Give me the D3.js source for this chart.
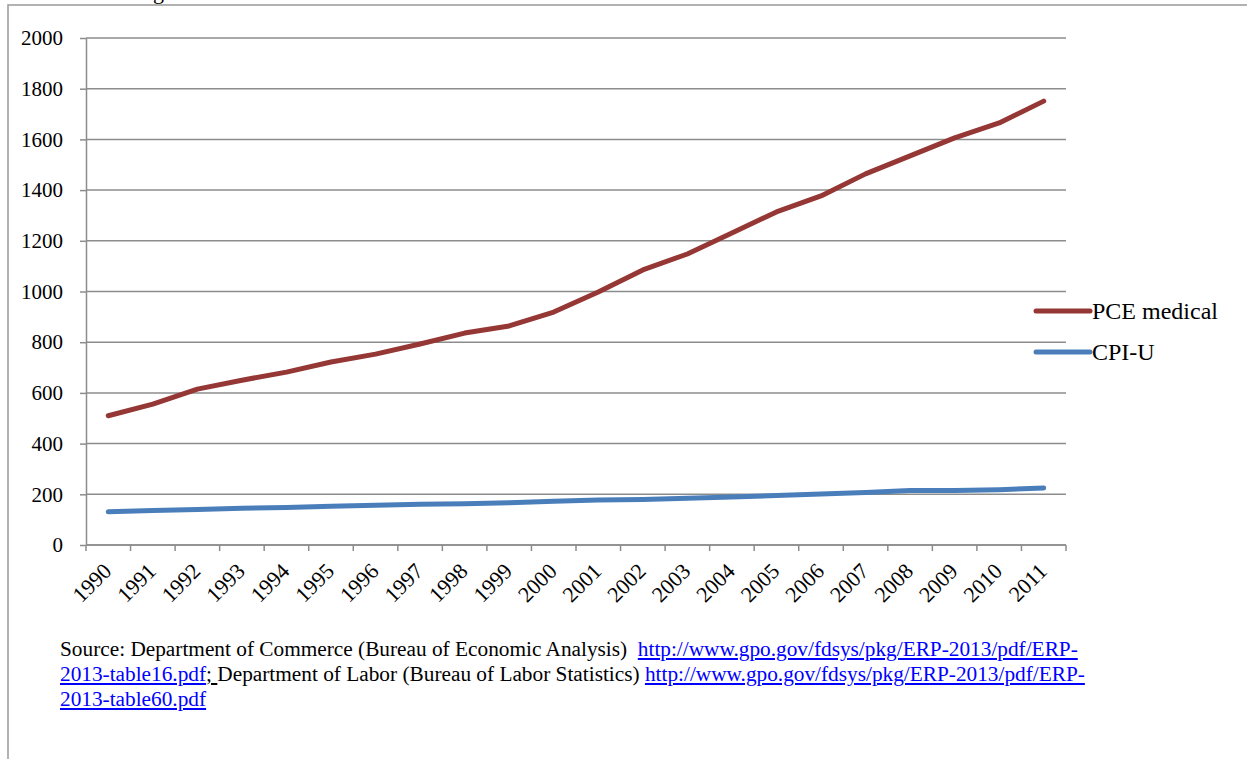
<!DOCTYPE html>
<html lang="en">
<head>
    <meta charset="utf-8">
    <title>PCE medical vs CPI-U, 1990-2011</title>
    <script src="https://d3js.org/d3.v7.min.js"></script>
    <style>
        body { margin: 0; background: #fff; font-family: "Liberation Serif", "Times New Roman", serif; }
        #chart { position: absolute; left: 0; top: 0; }
        svg text { font-family: "Liberation Serif", "Times New Roman", serif; }
        /* source note under the chart */
        #source {
            position: absolute; left: 60px; top: 637px;
            font-size: 21.3px; line-height: 25px; color: #000; white-space: nowrap;
        }
        #source a { color: #0000ff; text-decoration: underline; }
    </style>
</head>
<body>
<div id="chart"></div>
<div id="source">
    Source: Department of Commerce (Bureau of Economic Analysis)&nbsp; <a href="#">http://www.gpo.gov/fdsys/pkg/ERP-2013/pdf/ERP-</a><br>
    <a href="#">2013-table16.pdf</a><span style="text-decoration:underline">; </span>Department of Labor (Bureau of Labor Statistics) <a href="#">http://www.gpo.gov/fdsys/pkg/ERP-2013/pdf/ERP-</a><br>
    <a href="#">2013-table60.pdf</a>
</div>

<script>
    const years = ['1990','1991','1992','1993','1994','1995','1996','1997','1998','1999','2000',
                   '2001','2002','2003','2004','2005','2006','2007','2008','2009','2010','2011'];
    const pceMedical = [510, 556, 615, 650, 682, 722, 753, 793, 836, 864, 919,
                        998, 1085, 1148, 1231, 1314, 1377, 1464, 1535, 1606, 1665, 1751];
    const cpiU = [130.7, 136.2, 140.3, 144.5, 148.2, 152.4, 156.9, 160.5, 163.0, 166.6, 172.2,
                  177.1, 179.9, 184.0, 188.9, 195.3, 201.6, 207.3, 215.3, 214.5, 218.1, 224.9];
    const yTicks = [0, 200, 400, 600, 800, 1000, 1200, 1400, 1600, 1800, 2000];
    const seriesNames = ['PCE medical', 'CPI-U'];
    const seriesColors = ['#953735', '#4a7ebb'];

    const width = 1247, height = 759;
    const margin = {top: 38, right: 181, bottom: 214, left: 86};
    const gridColor = '#8c8c8c';
    const serif = '"Liberation Serif", "Times New Roman", serif';

    const svg = d3.select('#chart').append('svg')
        .attr('width', width).attr('height', height)
        .attr('font-family', serif);

    // outer frame (page clip) and the cut-off heading fragment
    svg.append('path').attr('d', `M8,${height} V5 H${width}`)
        .attr('fill', 'none').attr('stroke', '#999').attr('stroke-width', 1.5);
    svg.append('text').attr('x', 153).attr('y', -1)
        .attr('font-size', 22).text('g');

    const x = d3.scaleBand().domain(years)
        .range([margin.left, width - margin.right]);
    const y = d3.scaleLinear().domain([0, 2000])
        .range([height - margin.bottom, margin.top]);

    // gridlines
    svg.append('g').selectAll('line').data(yTicks).join('line')
        .attr('x1', margin.left).attr('x2', width - margin.right)
        .attr('y1', d => y(d)).attr('y2', d => y(d))
        .attr('stroke', gridColor).attr('stroke-width', 1.5);

    // y axis
    const yAxis = svg.append('g')
        .attr('transform', `translate(${margin.left},0)`)
        .call(d3.axisLeft(y).tickValues(yTicks).tickFormat(d3.format('d'))
            .tickSize(6).tickPadding(17).tickSizeOuter(0));
    yAxis.attr('font-family', serif);
    yAxis.select('.domain').attr('stroke', gridColor).attr('stroke-width', 1.5);
    yAxis.selectAll('.tick line').attr('stroke', gridColor).attr('stroke-width', 1.5);
    yAxis.selectAll('.tick text').attr('font-size', 21).attr('fill', '#000');

    // x axis: ticks at category boundaries
    const xBase = y(0);
    const bounds = years.map(d => x(d)).concat([x.range()[1]]);
    svg.append('line').attr('x1', margin.left).attr('x2', width - margin.right)
        .attr('y1', xBase).attr('y2', xBase)
        .attr('stroke', gridColor).attr('stroke-width', 1.5);
    svg.append('g').selectAll('line').data(bounds).join('line')
        .attr('x1', d => d).attr('x2', d => d)
        .attr('y1', xBase).attr('y2', xBase + 6)
        .attr('stroke', gridColor).attr('stroke-width', 1.5);
    svg.append('g').selectAll('text').data(years).join('text')
        .attr('transform', d => `translate(${x(d) + x.bandwidth() / 2 - 1},${xBase + 22}) rotate(-45)`)
        .attr('text-anchor', 'end').attr('dy', '0.35em')
        .attr('font-size', 22).text(d => d);

    // lines
    const line = d3.line()
        .x((d, i) => x(years[i]) + x.bandwidth() / 2)
        .y(d => y(d));
    [pceMedical, cpiU].forEach((vals, i) => {
        svg.append('path').datum(vals)
            .attr('fill', 'none').attr('stroke', seriesColors[i])
            .attr('stroke-width', 5).attr('stroke-linejoin', 'round').attr('stroke-linecap', 'round')
            .attr('d', line);
    });

    // legend
    const legend = svg.append('g').attr('transform', 'translate(1036,311)');
    seriesNames.forEach((name, i) => {
        const g = legend.append('g').attr('transform', `translate(0,${i * 41})`);
        g.append('line').attr('x1', 0).attr('x2', 54)
            .attr('stroke', seriesColors[i]).attr('stroke-width', 5).attr('stroke-linecap', 'round');
        g.append('text').attr('x', 56).attr('dy', '0.35em')
            .attr('font-size', 24).text(name);
    });
</script>
</body>
</html>
